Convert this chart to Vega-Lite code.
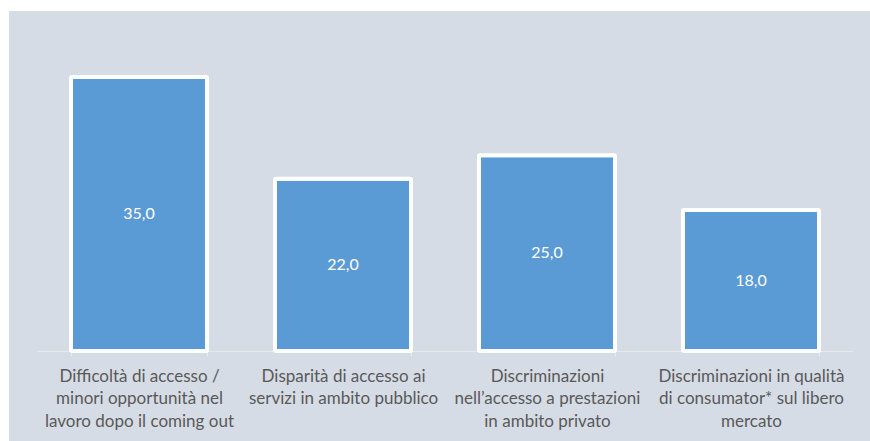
{
  "$schema": "https://vega.github.io/schema/vega-lite/v6.json",
  "width": 861,
  "height": 430,
  "autosize": {"type": "none"},
  "padding": {"left": 9, "top": 11, "right": 0, "bottom": 0},
  "background": "white",
  "config": {
    "view": {"fill": "#d6dce5", "stroke": null},
    "locale": {"number": {"decimal": ",", "thousands": ".", "grouping": [3], "currency": ["€", ""]}},
    "font": "Lato"
  },
  "data": {
    "values": [
      {"categoria": "Difficoltà di accesso /\nminori opportunità nel\nlavoro dopo il coming out", "valore": 35.0},
      {"categoria": "Disparità di accesso ai\nservizi in ambito pubblico", "valore": 22.0},
      {"categoria": "Discriminazioni\nnell’accesso a prestazioni\nin ambito privato", "valore": 25.0},
      {"categoria": "Discriminazioni in qualità\ndi consumator* sul libero\nmercato", "valore": 18.0}
    ]
  },
  "encoding": {
    "x": {
      "field": "categoria",
      "type": "nominal",
      "sort": null,
      "scale": {"range": [28, 844], "paddingInner": 0.333, "paddingOuter": 0.1667},
      "axis": {
        "title": null,
        "orient": "bottom",
        "offset": -90,
        "labelAngle": 0,
        "labelExpr": "split(datum.label, '\\n')",
        "labelFont": "Lato",
        "labelFontSize": 17,
        "labelColor": "#595959",
        "labelLineHeight": 22.5,
        "labelPadding": 12,
        "labelLimit": 0,
        "labelBaseline": "top",
        "domainColor": "#e9e9e9",
        "domainWidth": 1,
        "tickColor": "#e9e9e9",
        "tickSize": 5,
        "tickWidth": 1,
        "tickBand": "extent",
        "grid": false
      }
    }
  },
  "layer": [
    {
      "mark": {"type": "bar", "color": "#5b9bd5", "stroke": "white", "strokeWidth": 4, "cornerRadius": 1},
      "encoding": {
        "y": {
          "field": "valore",
          "type": "quantitative",
          "scale": {"domain": [-11.5, 43.43], "nice": false, "zero": false},
          "axis": null
        }
      }
    },
    {
      "mark": {"type": "text", "color": "white", "fontSize": 16, "font": "Lato", "baseline": "middle", "align": "center"},
      "encoding": {
        "y": {
          "field": "valore",
          "type": "quantitative",
          "scale": {"domain": [-23, 86.86], "nice": false, "zero": false},
          "axis": null
        },
        "text": {"field": "valore", "type": "quantitative", "format": ".1f"}
      }
    }
  ],
  "resolve": {"scale": {"y": "independent"}}
}
